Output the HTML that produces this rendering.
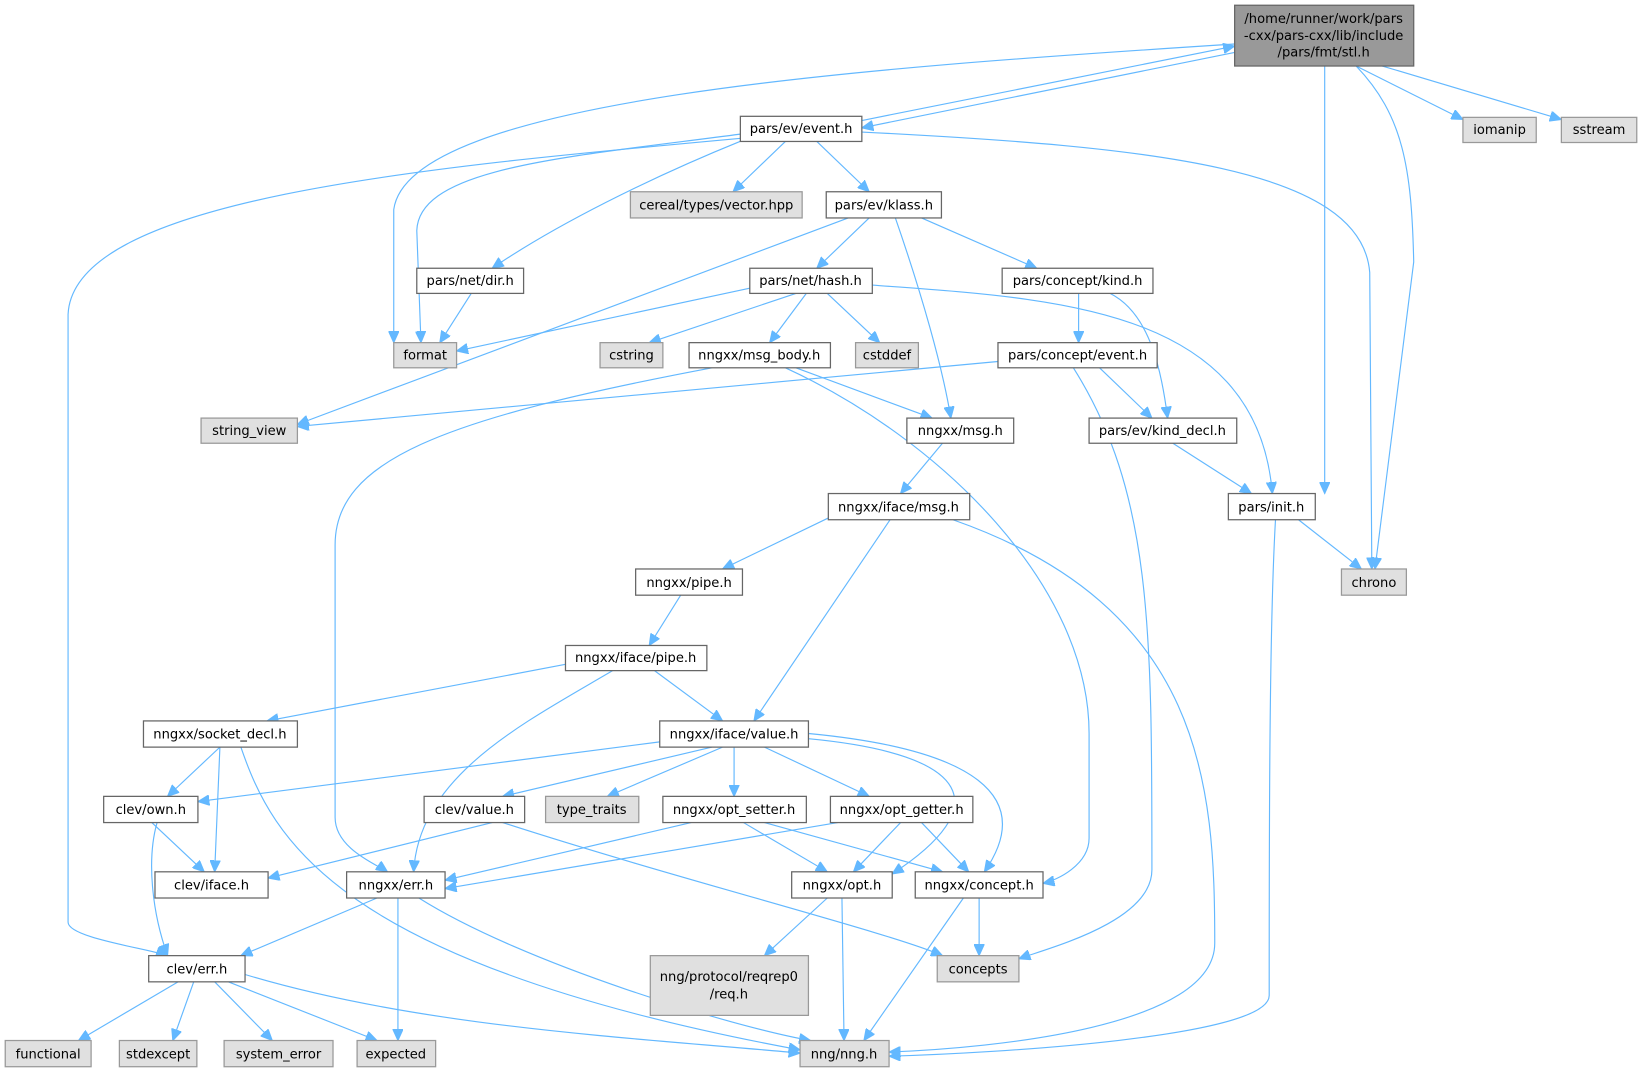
<!DOCTYPE html>
<html><head><meta charset="utf-8"><style>
html,body{margin:0;padding:0;background:#fff;}
svg{display:block}
text{font-family:"DejaVu Sans","Liberation Sans",sans-serif;font-size:12.5px;fill:#000;text-anchor:middle}
.n{fill:#fff;stroke:#666;stroke-width:1.2}
.g{fill:#e0e0e0;stroke:#999;stroke-width:1.2}
.e{fill:none;stroke:#63b8ff;stroke-width:1.1;marker-end:url(#a)}
</style></head><body>
<svg width="1642" height="1073" viewBox="0 0 1568 1024" preserveAspectRatio="none" xmlns="http://www.w3.org/2000/svg">
<defs><marker id="a" markerWidth="12" markerHeight="10" refX="11" refY="5" orient="auto" markerUnits="userSpaceOnUse"><path d="M0,0 L11,5 L0,10 z" fill="#63b8ff" stroke="#63b8ff"/></marker></defs>
<g>
<path class="e" d="M1179,42 C820,65 390,95 376,200 L376,327"/>
<path class="e" d="M707,128 C540,150 400,160 398,220 L402,327"/>
<path class="e" d="M823,115 L1179,44"/>
<path class="e" d="M1179,50 L823,122"/>
<path class="e" d="M1295,63 L1397,114"/>
<path class="e" d="M1320,63 L1491,114"/>
<path class="e" d="M1265,63 L1265,471"/>
<path class="e" d="M1295,63 C1340,110 1348,160 1350,250 L1313,543"/>
<path class="e" d="M823,126 C1100,140 1300,160 1308,260 L1310,543"/>
<path class="e" d="M707,132 C400,160 70,190 65,300 L65,880 C65,895 140,905 160,912"/>
<path class="e" d="M750,135 L700,183"/>
<path class="e" d="M780,135 L830,183"/>
<path class="e" d="M709,134 C620,170 530,215 470,256"/>
<path class="e" d="M810,208 L284,405"/>
<path class="e" d="M830,208 L780,256"/>
<path class="e" d="M880,208 L990,256"/>
<path class="e" d="M855,208 C880,280 900,350 908,399"/>
<path class="e" d="M450,280 L420,327"/>
<path class="e" d="M716,275 L436,335"/>
<path class="e" d="M760,280 L620,327"/>
<path class="e" d="M770,280 L735,327"/>
<path class="e" d="M790,280 L840,327"/>
<path class="e" d="M833,272 C1000,285 1200,290 1215,471"/>
<path class="e" d="M1030,280 L1030,327"/>
<path class="e" d="M1060,280 C1100,300 1110,360 1115,399"/>
<path class="e" d="M953,345 L284,407"/>
<path class="e" d="M1050,351 L1100,399"/>
<path class="e" d="M1025,351 C1100,470 1100,600 1100,830 C1100,880 1000,905 973,915"/>
<path class="e" d="M680,351 C420,400 320,440 320,520 L320,780 C320,810 360,825 370,832"/>
<path class="e" d="M760,351 L890,399"/>
<path class="e" d="M750,351 C900,420 1040,560 1040,700 L1040,800 C1040,825 1010,840 996,843"/>
<path class="e" d="M900,423 L860,471"/>
<path class="e" d="M1120,423 L1195,471"/>
<path class="e" d="M1240,496 L1300,543"/>
<path class="e" d="M1218,496 C1212,600 1212,800 1212,950 C1212,990 950,1005 849,1008"/>
<path class="e" d="M800,490 L690,543"/>
<path class="e" d="M850,496 L720,688"/>
<path class="e" d="M910,496 C1150,580 1160,750 1160,900 C1160,980 950,1000 849,1004"/>
<path class="e" d="M650,568 L620,616"/>
<path class="e" d="M540,634 L255,688"/>
<path class="e" d="M625,640 L690,688"/>
<path class="e" d="M585,640 C500,690 400,740 395,832"/>
<path class="e" d="M210,713 L160,760"/>
<path class="e" d="M210,713 L205,832"/>
<path class="e" d="M230,713 C260,800 320,920 764,1002"/>
<path class="e" d="M630,708 L189,765"/>
<path class="e" d="M680,713 L480,760"/>
<path class="e" d="M690,713 L580,760"/>
<path class="e" d="M701,713 L701,760"/>
<path class="e" d="M730,713 L830,760"/>
<path class="e" d="M772,705 C930,720 950,770 852,834"/>
<path class="e" d="M772,700 C930,715 990,760 940,832"/>
<path class="e" d="M145,785 L195,832"/>
<path class="e" d="M150,785 C140,820 145,870 160,912"/>
<path class="e" d="M470,785 L256,838"/>
<path class="e" d="M480,785 C650,840 850,890 900,912"/>
<path class="e" d="M660,785 L425,840"/>
<path class="e" d="M710,785 L790,832"/>
<path class="e" d="M730,785 L900,832"/>
<path class="e" d="M800,785 L425,848"/>
<path class="e" d="M860,785 L815,832"/>
<path class="e" d="M880,785 L925,832"/>
<path class="e" d="M360,857 L230,912"/>
<path class="e" d="M380,857 L380,993"/>
<path class="e" d="M400,857 C500,920 700,980 774,993"/>
<path class="e" d="M790,857 L730,912"/>
<path class="e" d="M804,857 L806,993"/>
<path class="e" d="M935,857 L935,912"/>
<path class="e" d="M920,857 L825,993"/>
<path class="e" d="M170,937 L75,993"/>
<path class="e" d="M185,937 L165,993"/>
<path class="e" d="M205,937 L260,993"/>
<path class="e" d="M218,937 L360,993"/>
<path class="e" d="M234,930 C400,980 600,990 764,1005"/>
</g>
<g>
<rect class="n" x="1179" y="5" width="171" height="58" style="fill:#999"/>
<text x="1264" y="22">/home/runner/work/pars</text><text x="1264" y="38">-cxx/pars-cxx/lib/include</text><text x="1264" y="54">/pars/fmt/stl.h</text>
<rect class="g" x="1397" y="112" width="70" height="24"/><text x="1432" y="128">iomanip</text>
<rect class="g" x="1491" y="112" width="72" height="24"/><text x="1527" y="128">sstream</text>
<rect class="n" x="707" y="111" width="116" height="24"/><text x="765" y="127">pars/ev/event.h</text>
<rect class="g" x="602" y="183" width="164" height="25"/><text x="684" y="200">cereal/types/vector.hpp</text>
<rect class="n" x="789" y="183" width="110" height="25"/><text x="844" y="200">pars/ev/klass.h</text>
<rect class="n" x="398" y="256" width="102" height="24"/><text x="449" y="272">pars/net/dir.h</text>
<rect class="n" x="716" y="256" width="117" height="24"/><text x="774" y="272">pars/net/hash.h</text>
<rect class="n" x="957" y="256" width="144" height="24"/><text x="1029" y="272">pars/concept/kind.h</text>
<rect class="g" x="376" y="327" width="60" height="24"/><text x="406" y="343">format</text>
<rect class="g" x="573" y="327" width="60" height="24"/><text x="603" y="343">cstring</text>
<rect class="n" x="658" y="327" width="135" height="24"/><text x="725" y="343">nngxx/msg_body.h</text>
<rect class="g" x="817" y="327" width="60" height="24"/><text x="847" y="343">cstddef</text>
<rect class="n" x="953" y="327" width="152" height="24"/><text x="1029" y="343">pars/concept/event.h</text>
<rect class="g" x="192" y="399" width="92" height="24"/><text x="238" y="415">string_view</text>
<rect class="n" x="866" y="399" width="102" height="24"/><text x="917" y="415">nngxx/msg.h</text>
<rect class="n" x="1040" y="399" width="141" height="24"/><text x="1110" y="415">pars/ev/kind_decl.h</text>
<rect class="n" x="791" y="471" width="135" height="25"/><text x="858" y="488">nngxx/iface/msg.h</text>
<rect class="n" x="1173" y="471" width="83" height="25"/><text x="1214" y="488">pars/init.h</text>
<rect class="g" x="1281" y="543" width="62" height="25"/><text x="1312" y="560">chrono</text>
<rect class="n" x="607" y="543" width="102" height="25"/><text x="658" y="560">nngxx/pipe.h</text>
<rect class="n" x="540" y="616" width="135" height="24"/><text x="607" y="632">nngxx/iface/pipe.h</text>
<rect class="n" x="137" y="688" width="147" height="25"/><text x="210" y="705">nngxx/socket_decl.h</text>
<rect class="n" x="630" y="688" width="142" height="25"/><text x="701" y="705">nngxx/iface/value.h</text>
<rect class="n" x="99" y="760" width="90" height="25"/><text x="144" y="777">clev/own.h</text>
<rect class="n" x="405" y="760" width="96" height="25"/><text x="453" y="777">clev/value.h</text>
<rect class="g" x="521" y="760" width="89" height="25"/><text x="565" y="777">type_traits</text>
<rect class="n" x="633" y="760" width="137" height="25"/><text x="701" y="777">nngxx/opt_setter.h</text>
<rect class="n" x="793" y="760" width="136" height="25"/><text x="861" y="777">nngxx/opt_getter.h</text>
<rect class="n" x="148" y="832" width="108" height="25"/><text x="202" y="849">clev/iface.h</text>
<rect class="n" x="331" y="832" width="94" height="25"/><text x="378" y="849">nngxx/err.h</text>
<rect class="n" x="756" y="832" width="96" height="25"/><text x="804" y="849">nngxx/opt.h</text>
<rect class="n" x="874" y="832" width="122" height="25"/><text x="935" y="849">nngxx/concept.h</text>
<rect class="n" x="142" y="912" width="92" height="25"/><text x="188" y="929">clev/err.h</text>
<rect class="g" x="621" y="912" width="151" height="57"/><text x="696" y="936">nng/protocol/reqrep0</text><text x="696" y="953">/req.h</text>
<rect class="g" x="895" y="912" width="78" height="25"/><text x="934" y="929">concepts</text>
<rect class="g" x="5" y="993" width="82" height="25"/><text x="46" y="1010">functional</text>
<rect class="g" x="114" y="993" width="74" height="25"/><text x="151" y="1010">stdexcept</text>
<rect class="g" x="214" y="993" width="104" height="25"/><text x="266" y="1010">system_error</text>
<rect class="g" x="341" y="993" width="75" height="25"/><text x="378" y="1010">expected</text>
<rect class="g" x="764" y="993" width="85" height="25"/><text x="806" y="1010">nng/nng.h</text>
</g>
</svg>
</body></html>
